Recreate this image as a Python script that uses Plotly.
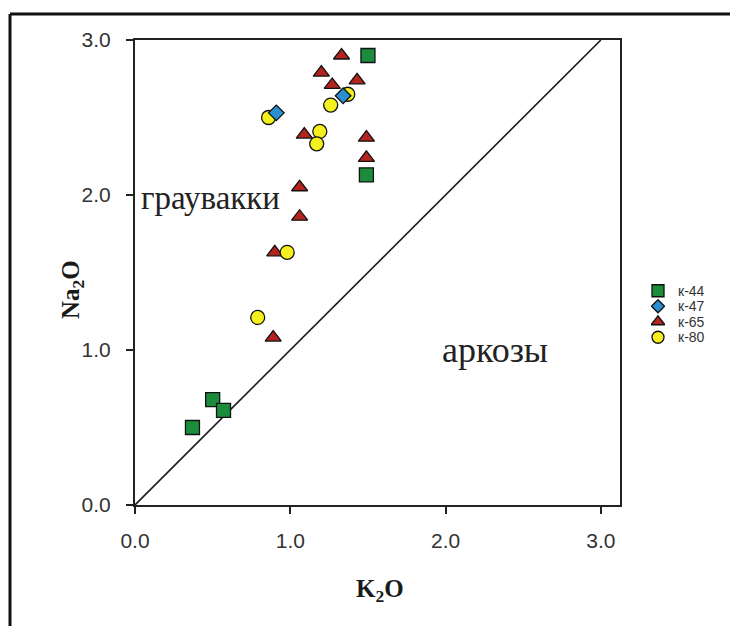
import plotly.graph_objects as go

# Data (K2O, Na2O)
k44_x = [1.50, 1.49, 0.50, 0.57, 0.37]
k44_y = [2.90, 2.13, 0.68, 0.61, 0.50]

k47_x = [0.91, 1.34]
k47_y = [2.53, 2.64]

k65_x = [1.33, 1.20, 1.27, 1.43, 1.09, 1.49, 1.49, 1.06, 1.06, 0.90, 0.89]
k65_y = [2.90, 2.79, 2.71, 2.74, 2.39, 2.37, 2.24, 2.05, 1.86, 1.63, 1.08]

k80_x = [0.86, 1.37, 1.26, 1.19, 1.17, 0.98, 0.79]
k80_y = [2.50, 2.65, 2.58, 2.41, 2.33, 1.63, 1.21]

tick_vals = [0, 1, 2, 3]
tick_text = ["0.0", "1.0", "2.0", "3.0"]
boundary_x = [0, 3]
boundary_y = [0, 3]

series_names = ["к-44", "к-47", "к-65", "к-80"]

mk_line = dict(color="#111111", width=1.3)
styles = {
    "к-44": dict(symbol="square", size=14, color="#1b8c3c", line=mk_line),
    "к-47": dict(symbol="diamond", size=12, color="#2a8fd0", line=mk_line),
    "к-65": dict(symbol="triangle-up", size=14, color="#b3241e", line=mk_line),
    "к-80": dict(symbol="circle", size=14, color="#f6f01e", line=mk_line),
}
legend_styles = {
    "к-44": dict(symbol="square", size=12, color="#1b8c3c", line=mk_line),
    "к-47": dict(symbol="diamond", size=10, color="#2a8fd0", line=mk_line),
    "к-65": dict(symbol="triangle-up", size=12, color="#b3241e", line=mk_line),
    "к-80": dict(symbol="circle", size=12, color="#f6f01e", line=mk_line),
}

W, H = 730, 626

def fx(px):
    return px / W

def fy(py):
    return 1 - py / H

fig = go.Figure()

fig.add_trace(go.Scatter(x=boundary_x, y=boundary_y, mode="lines",
                         line=dict(color="#1a1a1a", width=1.6),
                         showlegend=False, hoverinfo="skip"))

data = {
    "к-65": (k65_x, k65_y),
    "к-80": (k80_x, k80_y),
    "к-44": (k44_x, k44_y),
    "к-47": (k47_x, k47_y),
}
for name, (xs, ys) in data.items():
    fig.add_trace(go.Scatter(x=xs, y=ys, mode="markers", name=name,
                             marker=styles[name], showlegend=False))

# Legend drawn on its own small categorical axis
for name in series_names:
    fig.add_trace(go.Scatter(x=[0], y=[name], mode="markers", xaxis="x2", yaxis="y2",
                             marker=legend_styles[name], showlegend=False, hoverinfo="skip"))

tickfont = dict(family="Liberation Sans, Arial", size=21, color="#333333")
axis_common = dict(tickvals=tick_vals, ticktext=tick_text,
                   ticks="outside", ticklen=7, tickwidth=2, tickcolor="#222222",
                   showline=True, linecolor="#222222", linewidth=2, mirror=True,
                   showgrid=False, zeroline=False, automargin=False, tickfont=tickfont)

fig.update_layout(
    width=W, height=H,
    margin=dict(l=0, r=0, t=0, b=0),
    paper_bgcolor="white", plot_bgcolor="white",
    showlegend=False,
    font=dict(family="Liberation Sans, Arial", color="#222222"),
    xaxis=dict(domain=[fx(135), fx(620)], range=[0, 3.123], anchor="y",
               ticklabelstandoff=9, **axis_common),
    yaxis=dict(domain=[fy(505), fy(40)], range=[0, 3.0], anchor="x",
               ticklabelstandoff=11, **axis_common),
    xaxis2=dict(domain=[fx(651), fx(665)], range=[-1, 1],
                anchor="y2", visible=False, fixedrange=True),
    yaxis2=dict(domain=[fy(345), fy(283)], anchor="x2",
                type="category", categoryorder="array",
                categoryarray=list(reversed(series_names)),
                tickmode="array", tickvals=series_names, ticktext=series_names,
                range=[-0.5, 3.5], side="right", showline=False, showgrid=False,
                zeroline=False, ticks="", ticklabelstandoff=12, automargin=False,
                tickfont=dict(family="Liberation Sans, Arial", size=14, color="#333333")),
)

serif = "Liberation Serif, Times New Roman, serif"
annotations = [
    dict(x=fx(380), y=fy(590), xref="paper", yref="paper", xanchor="center", yanchor="middle",
         text="<b>K<sub>2</sub>O</b>", showarrow=False,
         font=dict(family=serif, size=25, color="#1a1a1a")),
    dict(x=fx(72), y=fy(290), xref="paper", yref="paper", xanchor="center", yanchor="middle",
         text="<b>Na<sub>2</sub>O</b>", showarrow=False, textangle=-90,
         font=dict(family=serif, size=25, color="#1a1a1a")),
    dict(x=fx(139), y=fy(198), xref="paper", yref="paper",
         xanchor="left", yanchor="middle", text="граувакки", showarrow=False,
         font=dict(family=serif, size=33, color="#222222")),
    dict(x=fx(440), y=fy(350), xref="paper", yref="paper",
         xanchor="left", yanchor="middle", text="аркозы", showarrow=False,
         font=dict(family=serif, size=36, color="#222222")),
]
fig.update_layout(annotations=annotations)

frame = dict(color="#111111", width=3)
fig.add_shape(type="line", xref="paper", yref="paper",
              x0=fx(10), x1=fx(730), y0=fy(14), y1=fy(14), line=frame)
fig.add_shape(type="line", xref="paper", yref="paper",
              x0=fx(10), x1=fx(10), y0=fy(14), y1=fy(626), line=frame)

fig.write_html("out.html")
